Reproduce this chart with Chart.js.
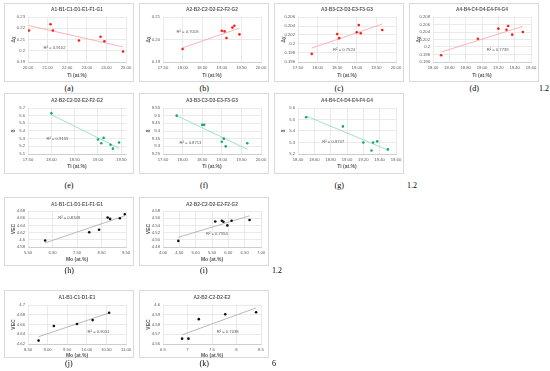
<!DOCTYPE html>
<html><head><meta charset="utf-8">
<script src="https://cdn.jsdelivr.net/npm/chart.js@4.4.0/dist/chart.umd.min.js"></script>
<style>
html,body{margin:0;padding:0;background:#fff;}
body{width:550px;height:371px;position:relative;overflow:hidden;}
.box{position:absolute;border:1px solid #d9d9d9;box-sizing:border-box;background:#fff;}
.box canvas{position:absolute;left:0;top:0;}
.cap{position:absolute;font:8px 'Liberation Serif',serif;color:#000;white-space:nowrap;}
</style>
</head><body>
<script>
// ---------------- data ----------------
// A1 series (Ti vs Δχ)
const tiA1 = [20.05, 21.15, 21.27, 22.6, 23.7, 23.9, 24.85];
const dxA1 = [0.218, 0.2235, 0.218, 0.2091, 0.2124, 0.2085, 0.1994];
// A2 series
const tiA2 = [18.0, 19.0, 19.07, 19.12, 19.27, 19.32, 19.45];
const dxA2 = [0.1958, 0.2039, 0.2036, 0.2007, 0.2053, 0.2061, 0.2023];
const deltaA2 = [5.63, 5.29, 5.24, 5.31, 5.22, 5.17, 5.25];
// A3 series
const tiA3 = [17.85, 18.5, 18.55, 19.0, 19.05, 19.1, 19.65];
const dxA3 = [0.1978, 0.2022, 0.2013, 0.2026, 0.2042, 0.2024, 0.2031];
const deltaA3 = [9.50, 9.44, 9.44, 9.33, 9.35, 9.30, 9.32];
// A4 series
const tiA4 = [18.5, 18.95, 19.2, 19.3, 19.32, 19.37, 19.5];
const dxA4 = [0.1978, 0.2022, 0.2049, 0.2046, 0.2056, 0.2033, 0.2040];
const deltaA4 = [5.52, 5.44, 5.30, 5.23, 5.30, 5.31, 5.24];
// Mo vs VEC
const moH = [6.2, 8.0, 8.4, 8.75, 8.85, 9.25, 9.45];
const vecH = [4.598, 4.621, 4.628, 4.662, 4.658, 4.660, 4.671];
const moI = [4.47, 5.6, 5.8, 5.85, 5.97, 6.1, 6.65];
const vecI = [4.497, 4.551, 4.553, 4.550, 4.540, 4.553, 4.555];
const moJ = [8.77, 9.16, 9.75, 10.15, 10.57];
const vecJ = [4.627, 4.657, 4.661, 4.669, 4.684];
const moK = [6.89, 7.02, 7.23, 7.77, 8.40];
const vecK = [4.5655, 4.5655, 4.5855, 4.5905, 4.5925];

// tick labels
const xTicksA = ['20.00','21.00','22.00','23.00','24.00','25.00'];
const yTicksA = ['0.19','0.2','0.21','0.22','0.23'];
const xTicksB = ['17.50','18.00','18.50','19.00','19.50','20.00'];
const yTicksB = ['0.19','0.20','0.21'];
const xTicksC = ['17.50','18.00','18.50','19.00','19.50','20.00'];
const yTicksC = ['0.196','0.198','0.2','0.202','0.204','0.206'];
const xTicksD = ['18.40','18.60','18.80','19.00','19.20','19.40','19.60'];
const yTicksD = ['0.196','0.198','0.2','0.202','0.204','0.206','0.208'];
const xTicksE = ['17.50','18.00','18.50','19.00','19.50'];
const yTicksE = ['5.1','5.2','5.3','5.4','5.5','5.6','5.7'];
const xTicksF = ['17.50','18.00','18.50','19.00','19.50','20.00'];
const yTicksF = ['9.25','9.3','9.35','9.4','9.45','9.5','9.55'];
const xTicksG = ['18.40','18.60','18.80','19.00','19.20','19.40','19.60'];
const yTicksG = ['5.2','5.3','5.4','5.5','5.6'];
const xTicksH = ['5.50','6.50','7.50','8.50','9.50'];
const yTicksH = ['4.58','4.6','4.62','4.64','4.66','4.68'];
const xTicksI = ['4.00','4.50','5.00','5.50','6.00','6.50','7.00'];
const yTicksI = ['4.48','4.50','4.52','4.54','4.56','4.58'];
const xTicksJ = ['8.50','9.00','9.50','10.00','10.50','11.00'];
const yTicksJ = ['4.62','4.64','4.66','4.68','4.7'];
const xTicksK = ['6.5','7','7.5','8','8.5'];
const yTicksK = ['4.56','4.57','4.58','4.59','4.6'];

const r2Values = ['0.9102','0.7018','0.7524','0.7739','0.9155','0.8713','0.8737','0.8349','0.7554','0.9051','0.7038'];
const panelTitles = ['A1-B1-C1-D1-E1-F1-G1','A2-B2-C2-D2-E2-F2-G2','A3-B3-C3-D3-E3-F3-G3','A4-B4-C4-D4-E4-F4-G4',
  'A2-B2-C2-D2-E2-F2-G2','A3-B3-C3-D3-E3-F3-G3','A4-B4-C4-D4-E4-F4-G4',
  'A1-B1-C1-D1-E1-F1-G1','A2-B2-C2-D2-E2-F2-G2','A1-B1-C1-D1-E1','A2-B2-C2-D2-E2'];
const captions = ['(a)','(b)','(c)','(d)','(e)','(f)','(g)','(h)','(i)','(j)','(k)'];

// ---------------- layout ----------------
const RED='#ff1a1a', RED_T='#f5a3a3', GRN='#16a873', GRN_T='#8fd6bb', BLK='#111111', BLK_T='#a8a8a8';
const colL=[4,139,274,409];
const rows=[
  {top:3,  h:79, pt:16,  pb:61,  ty:9,   xty:75,  cap:84},
  {top:93, h:81, pt:107, pb:153, ty:100, xty:166, cap:181},
  {top:197,h:69, pt:210, pb:246, ty:204, xty:259, cap:266},
  {top:290,h:68, pt:304, pb:343, ty:297, xty:355, cap:359}
];
const panels=[
  {c:0,r:0,x:tiA1,y:dxA1,xt:xTicksA,yt:yTicksA,xl:'Ti (at.%)',yl:'Δχ',pc:RED,tc:RED_T,rp:[0.27,0.69]},
  {c:1,r:0,x:tiA2,y:dxA2,xt:xTicksB,yt:yTicksB,xl:'Ti (at.%)',yl:'Δχ',pc:RED,tc:RED_T,rp:[0.25,0.34]},
  {c:2,r:0,x:tiA3,y:dxA3,xt:xTicksC,yt:yTicksC,xl:'Ti (at.%)',yl:'Δχ',pc:RED,tc:RED_T,rp:[0.47,0.72]},
  {c:3,r:0,x:tiA4,y:dxA4,xt:xTicksD,yt:yTicksD,xl:'Ti (at.%)',yl:'Δχ',pc:RED,tc:RED_T,rp:[0.66,0.74]},
  {c:0,r:1,x:tiA2,y:deltaA2,xt:xTicksE,yt:yTicksE,xmax:19.6,xl:'Ti (at.%)',yl:'δ',pc:GRN,tc:GRN_T,rp:[0.3,0.66]},
  {c:1,r:1,x:tiA3,y:deltaA3,xt:xTicksF,yt:yTicksF,xl:'Ti (at.%)',yl:'δ',pc:GRN,tc:GRN_T,rp:[0.28,0.76]},
  {c:2,r:1,x:tiA4,y:deltaA4,xt:xTicksG,yt:yTicksG,xl:'Ti (at.%)',yl:'δ',pc:GRN,tc:GRN_T,rp:[0.36,0.73]},
  {c:0,r:2,x:moH,y:vecH,xt:xTicksH,yt:yTicksH,xl:'Mo (at.%)',yl:'VEC',pc:BLK,tc:BLK_T,rp:[0.42,0.2]},
  {c:1,r:2,x:moI,y:vecI,xt:xTicksI,yt:yTicksI,xl:'Mo (at.%)',yl:'VEC',pc:BLK,tc:BLK_T,rp:[0.55,0.64]},
  {c:0,r:3,x:moJ,y:vecJ,xt:xTicksJ,yt:yTicksJ,xl:'Mo (at.%)',yl:'VEC',pc:BLK,tc:BLK_T,rp:[0.72,0.7]},
  {c:1,r:3,x:moK,y:vecK,xt:xTicksK,yt:yTicksK,xl:'Mo (at.%)',yl:'VEC',pc:BLK,tc:BLK_T,rp:[0.66,0.7]}
];
const sideNotes=[{t:'1.2',x:539,y:84},{t:'1.2',x:407,y:181},{t:'1.2',x:272,y:266},{t:'6',x:272,y:359}];

const BOXW=130, PL=23, PR=121;
const FONT="'Liberation Sans', Arial, sans-serif";

function regress(xs,ys){
  const n=xs.length; let mx=0,my=0; for(let i=0;i<n;i++){mx+=xs[i];my+=ys[i];} mx/=n; my/=n;
  let sxy=0,sxx=0; for(let i=0;i<n;i++){sxy+=(xs[i]-mx)*(ys[i]-my); sxx+=(xs[i]-mx)*(xs[i]-mx);}
  const b=sxy/sxx; return {b, a:my-b*mx};
}

panels.forEach((p,idx)=>{
  const row=rows[p.r];
  const L=colL[p.c], T=row.top, W=BOXW, H=row.h;
  const box=document.createElement('div'); box.className='box';
  Object.assign(box.style,{left:L+'px',top:T+'px',width:W+'px',height:H+'px'});
  const cv=document.createElement('canvas'); cv.width=W; cv.height=H;
  cv.style.width=W+'px'; cv.style.height=H+'px';
  box.appendChild(cv); document.body.appendChild(box);

  const plotTop=row.pt-T, plotBot=row.pb-T;
  const xv=p.xt.map(Number), yv=p.yt.map(Number);
  const pts=p.x.map((v,i)=>({x:v,y:p.y[i]}));
  const rg=regress(p.x,p.y);
  const x0=Math.min(...p.x), x1=Math.max(...p.x);
  const trend=[{x:x0,y:rg.a+rg.b*x0},{x:x1,y:rg.a+rg.b*x1}];

  const deco={id:'deco'+idx,afterDraw(chart){
    const ctx=chart.ctx, ca=chart.chartArea;
    ctx.save();
    ctx.fillStyle='#595959'; ctx.textAlign='center'; ctx.textBaseline='middle';
    ctx.font='bold 4.8px '+FONT;
    ctx.fillText(panelTitles[idx],(ca.left+ca.right)/2,row.ty-T);
    ctx.font='bold 5px '+FONT;
    ctx.fillText(p.xl,(ca.left+ca.right)/2,row.xty-T);
    ctx.save(); ctx.translate(9,(ca.top+ca.bottom)/2); ctx.rotate(-Math.PI/2);
    ctx.fillText(p.yl,0,0); ctx.restore();
    ctx.font='4.2px '+FONT;
    ctx.fillText('R² = '+r2Values[idx], ca.left+p.rp[0]*(ca.right-ca.left), ca.top+p.rp[1]*(ca.bottom-ca.top));
    ctx.restore();
  }};

  new Chart(cv,{
    type:'scatter',
    data:{datasets:[
      {type:'line',data:trend,borderColor:p.tc,borderWidth:0.8,pointRadius:0,fill:false,order:2},
      {data:pts,backgroundColor:p.pc,borderColor:p.pc,pointRadius:1.3,borderWidth:0,order:1}
    ]},
    options:{
      responsive:false,animation:false,devicePixelRatio:1,
      layout:{padding:{left:1,top:plotTop,right:W-PR,bottom:1}},
      plugins:{legend:{display:false},tooltip:{enabled:false},title:{display:false}},
      scales:{
        x:{type:'linear',min:xv[0],max:(p.xmax!==undefined?p.xmax:xv[xv.length-1]),
          afterBuildTicks:s=>{s.ticks=xv.map(v=>({value:v}));},
          afterFit:s=>{s.height=H-plotBot-1;},
          grid:{color:'#e4e4e4',lineWidth:0.8,drawTicks:false},
          border:{display:true,color:'#c8c8c8',width:0.8},
          ticks:{autoSkip:false,maxRotation:0,padding:3,color:'#595959',font:{family:FONT,size:4.2},
            callback:(v)=>{const k=xv.findIndex(t=>Math.abs(t-v)<1e-9);return k>=0?p.xt[k]:'';}}
        },
        y:{type:'linear',min:yv[0],max:yv[yv.length-1],
          afterBuildTicks:s=>{s.ticks=yv.map(v=>({value:v}));},
          afterFit:s=>{s.width=PL-1;},
          grid:{color:'#e4e4e4',lineWidth:0.8,drawTicks:false},
          border:{display:false},
          ticks:{autoSkip:false,padding:3,color:'#595959',font:{family:FONT,size:4.2},
            callback:(v)=>{const k=yv.findIndex(t=>Math.abs(t-v)<1e-9);return k>=0?p.yt[k]:'';}}
        }
      }
    },
    plugins:[deco]
  });

  const cap=document.createElement('div'); cap.className='cap'; cap.textContent=captions[idx];
  document.body.appendChild(cap);
  cap.style.top=row.cap+'px';
  cap.style.left=(L+W/2 - cap.offsetWidth/2)+'px';
});

sideNotes.forEach(s=>{
  const d=document.createElement('div'); d.className='cap'; d.textContent=s.t;
  d.style.left=s.x+'px'; d.style.top=s.y+'px'; document.body.appendChild(d);
});
</script>
</body></html>
